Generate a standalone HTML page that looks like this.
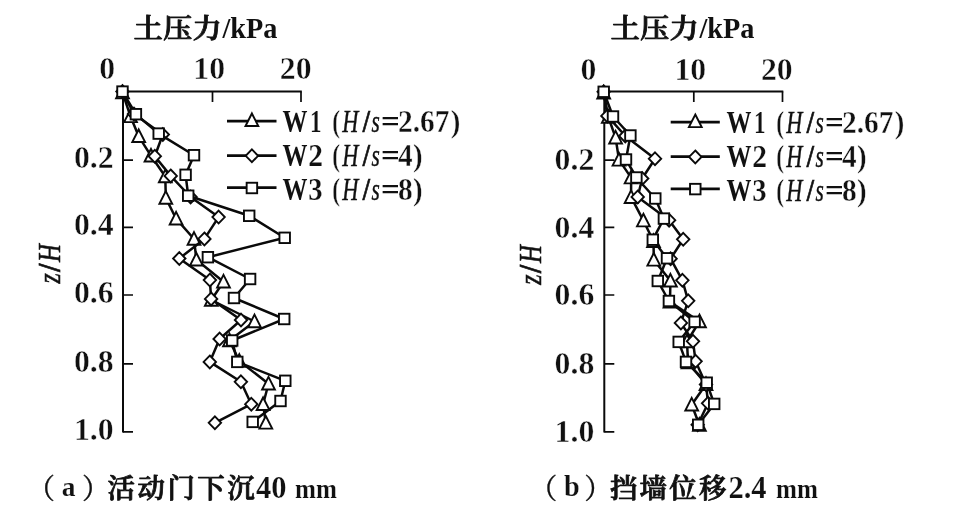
<!DOCTYPE html>
<html lang="zh-CN">
<head>
<meta charset="utf-8">
<title>土压力分布</title>
<style>
html,body{margin:0;padding:0;background:#fff;}
body{width:955px;height:515px;overflow:hidden;}
svg{display:block;}
text{fill:#111;font-family:"Liberation Serif","Noto Serif CJK SC",serif;}
.b{font-weight:bold;stroke:#fff;stroke-width:0.4px;}
.bw{font-weight:bold;stroke:#fff;stroke-width:0.2px;}
.n{font-weight:normal;}
.i{font-style:italic;font-weight:normal;stroke:none;}
.bi{font-style:italic;font-weight:bold;stroke:#fff;stroke-width:0.5px;}
.cj{font-weight:600;stroke:#111;stroke-width:0.8px;stroke-linejoin:round;}
.bb{font-weight:bold;stroke:none;}
.i2{font-style:italic;font-weight:normal;stroke:#111;stroke-width:0.55px;}
.bi2{font-style:italic;font-weight:bold;stroke:none;}
.i3{font-style:italic;font-weight:normal;stroke:#111;stroke-width:0.4px;}
.sl{font-weight:bold;stroke:#111;stroke-width:0.7px;}
.pn{font-weight:500;stroke:#111;stroke-width:0.3px;}
.ln{fill:none;stroke:#0a0a0a;stroke-width:2.5;stroke-linejoin:round;stroke-linecap:round;}
.lg{fill:none;stroke:#0a0a0a;stroke-width:2.8;}
.mk{fill:#fff;stroke:#0a0a0a;stroke-width:1.9;stroke-linejoin:miter;}
.ax{fill:none;stroke:#0a0a0a;stroke-width:2.0;stroke-linejoin:miter;}
.tk{fill:none;stroke:#0a0a0a;stroke-width:1.7;}
</style>
</head>
<body>
<svg width="955" height="515" viewBox="0 0 955 515">
<rect width="955" height="515" fill="#fff"/>
<text class="cj" transform="translate(133.4,37.6) scale(1.054,1)" font-size="27.8" letter-spacing="0.25">土压力</text>
<text class="bb" transform="translate(222.4,37.9) scale(0.975,1)" font-size="29">/kPa</text>
<text class="cj" transform="translate(610.4,37.6) scale(1.054,1)" font-size="27.8" letter-spacing="0.25">土压力</text>
<text class="bb" transform="translate(699.4,37.9) scale(0.975,1)" font-size="29">/kPa</text>
<path class="ax" d="M123,432.6V91.5H301.8"/>
<path class="tk" d="M212.5,91.5v10.5M301,91.5v10.5M123,160.2h10M123,227.4h10M123,295h10M123,363.8h10M123,431.8h10"/>
<text class="b" transform="translate(107.25,78.6) scale(1.032,1)" font-size="30.8" text-anchor="middle">0</text>
<text class="b" transform="translate(209.25,78.6) scale(1.032,1)" font-size="30.8" text-anchor="middle">10</text>
<text class="b" transform="translate(295.7,78.6) scale(1.032,1)" font-size="30.8" text-anchor="middle">20</text>
<text class="b" transform="translate(113.6,168.2) scale(1.032,1)" font-size="30.8" text-anchor="end">0.2</text>
<text class="b" transform="translate(113.6,235.4) scale(1.032,1)" font-size="30.8" text-anchor="end">0.4</text>
<text class="b" transform="translate(113.6,303) scale(1.032,1)" font-size="30.8" text-anchor="end">0.6</text>
<text class="b" transform="translate(113.6,371.8) scale(1.032,1)" font-size="30.8" text-anchor="end">0.8</text>
<text class="b" transform="translate(113.6,439.8) scale(1.032,1)" font-size="30.8" text-anchor="end">1.0</text>
<g transform="translate(60.2,284.3) rotate(-90)"><text class="i2" transform="translate(0.85,0) scale(0.854,1)" font-size="31">z</text><text class="sl" transform="translate(12.54,0) scale(0.940,1)" font-size="31">/</text><text class="i2" transform="translate(22.4,0) scale(0.800,1)" font-size="31">H</text></g>
<path class="ln" d="M122.5,92.6L130.5,116.4L138.7,136.3L151,155.8L165.3,176.5L165.8,198L176.1,218.7L194,239L196.4,259.8L223.5,281.7L211.3,300L254.5,321.5L229.5,340.5L239.3,361L268.5,383.7L263.1,404.3L265.8,422.9"/>
<g class="mk"><path d="M122.5,85.75L128.9,98.35L116.1,98.35Z"/><path d="M130.5,109.55L136.9,122.15L124.1,122.15Z"/><path d="M138.7,129.45L145.1,142.05L132.3,142.05Z"/><path d="M151,148.95L157.4,161.55L144.6,161.55Z"/><path d="M165.3,169.65L171.7,182.25L158.9,182.25Z"/><path d="M165.8,191.15L172.2,203.75L159.4,203.75Z"/><path d="M176.1,211.85L182.5,224.45L169.7,224.45Z"/><path d="M194,232.15L200.4,244.75L187.6,244.75Z"/><path d="M196.4,252.95L202.8,265.55L190,265.55Z"/><path d="M223.5,274.85L229.9,287.45L217.1,287.45Z"/><path d="M211.3,293.15L217.7,305.75L204.9,305.75Z"/><path d="M254.5,314.65L260.9,327.25L248.1,327.25Z"/><path d="M229.5,333.65L235.9,346.25L223.1,346.25Z"/><path d="M239.3,354.15L245.7,366.75L232.9,366.75Z"/><path d="M268.5,376.85L274.9,389.45L262.1,389.45Z"/><path d="M263.1,397.45L269.5,410.05L256.7,410.05Z"/><path d="M265.8,416.05L272.2,428.65L259.4,428.65Z"/></g>
<path class="ln" d="M122.5,91.6L134,114L162.8,134.5L154.8,156.2L170.7,175.9L190.6,197L218.6,217.1L204.4,238.9L179.3,258.5L209.9,280.1L211.1,298.9L241,320L219.6,339L209.8,361.9L240.9,381.8L251.3,404.2L214.9,422.8"/>
<g class="mk"><path d="M122.5,85.2L128.7,91.6L122.5,98L116.3,91.6Z"/><path d="M134,107.6L140.2,114L134,120.4L127.8,114Z"/><path d="M162.8,128.1L169,134.5L162.8,140.9L156.6,134.5Z"/><path d="M154.8,149.8L161,156.2L154.8,162.6L148.6,156.2Z"/><path d="M170.7,169.5L176.9,175.9L170.7,182.3L164.5,175.9Z"/><path d="M190.6,190.6L196.8,197L190.6,203.4L184.4,197Z"/><path d="M218.6,210.7L224.8,217.1L218.6,223.5L212.4,217.1Z"/><path d="M204.4,232.5L210.6,238.9L204.4,245.3L198.2,238.9Z"/><path d="M179.3,252.1L185.5,258.5L179.3,264.9L173.1,258.5Z"/><path d="M209.9,273.7L216.1,280.1L209.9,286.5L203.7,280.1Z"/><path d="M211.1,292.5L217.3,298.9L211.1,305.3L204.9,298.9Z"/><path d="M241,313.6L247.2,320L241,326.4L234.8,320Z"/><path d="M219.6,332.6L225.8,339L219.6,345.4L213.4,339Z"/><path d="M209.8,355.5L216,361.9L209.8,368.3L203.6,361.9Z"/><path d="M240.9,375.4L247.1,381.8L240.9,388.2L234.7,381.8Z"/><path d="M251.3,397.8L257.5,404.2L251.3,410.6L245.1,404.2Z"/><path d="M214.9,416.4L221.1,422.8L214.9,429.2L208.7,422.8Z"/></g>
<path class="ln" d="M122.5,91.6L135.9,114.2L158.7,133.6L194,155.2L185.6,174.8L188.2,195.7L249.2,215.8L284.7,237.8L207.9,257.2L250.1,279L234,298L284.2,319L232.2,340.5L237.3,361.9L285.3,380.8L280.5,401L252.7,421.9"/>
<g class="mk"><rect x="117.25" y="86.35" width="10.5" height="10.5"/><rect x="130.65" y="108.95" width="10.5" height="10.5"/><rect x="153.45" y="128.35" width="10.5" height="10.5"/><rect x="188.75" y="149.95" width="10.5" height="10.5"/><rect x="180.35" y="169.55" width="10.5" height="10.5"/><rect x="182.95" y="190.45" width="10.5" height="10.5"/><rect x="243.95" y="210.55" width="10.5" height="10.5"/><rect x="279.45" y="232.55" width="10.5" height="10.5"/><rect x="202.65" y="251.95" width="10.5" height="10.5"/><rect x="244.85" y="273.75" width="10.5" height="10.5"/><rect x="228.75" y="292.75" width="10.5" height="10.5"/><rect x="278.95" y="313.75" width="10.5" height="10.5"/><rect x="226.95" y="335.25" width="10.5" height="10.5"/><rect x="232.05" y="356.65" width="10.5" height="10.5"/><rect x="280.05" y="375.55" width="10.5" height="10.5"/><rect x="275.25" y="395.75" width="10.5" height="10.5"/><rect x="247.45" y="416.65" width="10.5" height="10.5"/></g>
<path class="lg" d="M227,121.1H276.5"/>
<path class="lg" d="M227,155.6H276.5"/>
<path class="lg" d="M227,187.7H276.5"/>
<g class="mk"><path d="M251.9,113.45L258.3,126.05L245.5,126.05Z"/><path d="M251.9,149.4L258.1,155.8L251.9,162.2L245.7,155.8Z"/><rect x="246.65" y="182.75" width="10.5" height="10.5"/></g>
<text class="bb" transform="translate(282.4,132) scale(0.810,1)" font-size="30.8">W</text>
<text class="bw" transform="translate(310.1,132) scale(0.750,1)" font-size="30.8">1</text>
<text class="b" transform="translate(332.24,132) scale(0.756,1)" font-size="30.8">(</text>
<text class="i3" transform="translate(342.13,132) scale(0.728,1)" font-size="30.8">H</text>
<text class="sl" transform="translate(362.64,132) scale(0.840,1)" font-size="30.8">/</text>
<text class="i3" transform="translate(371.6,132) scale(0.692,1)" font-size="30.8">s</text>
<text class="bb" transform="translate(381.03,132) scale(1.073,1)" font-size="30.8">=</text>
<text class="b" transform="translate(398.04,132) scale(0.956,1)" font-size="30.8">2.67</text>
<text class="b" transform="translate(450.86,132) scale(0.938,1)" font-size="30.8">)</text>
<text class="bb" transform="translate(282.4,166) scale(0.810,1)" font-size="30.8">W</text>
<text class="bw" transform="translate(308.34,166) scale(0.957,1)" font-size="30.8">2</text>
<text class="b" transform="translate(332.24,166) scale(0.756,1)" font-size="30.8">(</text>
<text class="i3" transform="translate(342.13,166) scale(0.728,1)" font-size="30.8">H</text>
<text class="sl" transform="translate(362.64,166) scale(0.840,1)" font-size="30.8">/</text>
<text class="i3" transform="translate(371.6,166) scale(0.692,1)" font-size="30.8">s</text>
<text class="bb" transform="translate(381.03,166) scale(1.073,1)" font-size="30.8">=</text>
<text class="b" transform="translate(398.1,166) scale(0.947,1)" font-size="30.8">4</text>
<text class="b" transform="translate(413.06,166) scale(0.938,1)" font-size="30.8">)</text>
<text class="bb" transform="translate(282.4,199.5) scale(0.810,1)" font-size="30.8">W</text>
<text class="bw" transform="translate(308.37,199.5) scale(0.929,1)" font-size="30.8">3</text>
<text class="b" transform="translate(332.24,199.5) scale(0.756,1)" font-size="30.8">(</text>
<text class="i3" transform="translate(342.13,199.5) scale(0.728,1)" font-size="30.8">H</text>
<text class="sl" transform="translate(362.64,199.5) scale(0.840,1)" font-size="30.8">/</text>
<text class="i3" transform="translate(371.6,199.5) scale(0.692,1)" font-size="30.8">s</text>
<text class="bb" transform="translate(381.03,199.5) scale(1.073,1)" font-size="30.8">=</text>
<text class="b" transform="translate(397.94,199.5) scale(0.957,1)" font-size="30.8">8</text>
<text class="b" transform="translate(413.06,199.5) scale(0.938,1)" font-size="30.8">)</text>
<path class="ax" d="M604.3,432.6V91.5H783.3"/>
<path class="tk" d="M693.8,91.5v10.5M782.5,91.5v10.5M604.3,160.2h10M604.3,227.4h10M604.3,295h10M604.3,363.8h10M604.3,431.8h10"/>
<text class="b" transform="translate(588.35,79.7) scale(1.032,1)" font-size="30.8" text-anchor="middle">0</text>
<text class="b" transform="translate(690.35,79.7) scale(1.032,1)" font-size="30.8" text-anchor="middle">10</text>
<text class="b" transform="translate(776.8,79.7) scale(1.032,1)" font-size="30.8" text-anchor="middle">20</text>
<text class="b" transform="translate(594.3,170.4) scale(1.032,1)" font-size="30.8" text-anchor="end">0.2</text>
<text class="b" transform="translate(594.3,237.6) scale(1.032,1)" font-size="30.8" text-anchor="end">0.4</text>
<text class="b" transform="translate(594.3,305.2) scale(1.032,1)" font-size="30.8" text-anchor="end">0.6</text>
<text class="b" transform="translate(594.3,374) scale(1.032,1)" font-size="30.8" text-anchor="end">0.8</text>
<text class="b" transform="translate(594.3,442) scale(1.032,1)" font-size="30.8" text-anchor="end">1.0</text>
<g transform="translate(541.2,285.5) rotate(-90)"><text class="i2" transform="translate(0.85,0) scale(0.854,1)" font-size="31">z</text><text class="sl" transform="translate(12.54,0) scale(0.940,1)" font-size="31">/</text><text class="i2" transform="translate(22.4,0) scale(0.800,1)" font-size="31">H</text></g>
<path class="ln" d="M603.7,92.8L608.3,117L615.6,137.7L619,159.9L631.1,177.6L631.1,197.2L643.4,220.6L653.5,241.2L653.8,259.9L670.4,280.8L670,301.8L699.5,321.5L687,341.5L688,362.5L706,384.3L691.7,404.7L699.4,425"/>
<g class="mk"><path d="M603.7,85.95L610.1,98.55L597.3,98.55Z"/><path d="M608.3,110.15L614.7,122.75L601.9,122.75Z"/><path d="M615.6,130.85L622,143.45L609.2,143.45Z"/><path d="M619,153.05L625.4,165.65L612.6,165.65Z"/><path d="M631.1,170.75L637.5,183.35L624.7,183.35Z"/><path d="M631.1,190.35L637.5,202.95L624.7,202.95Z"/><path d="M643.4,213.75L649.8,226.35L637,226.35Z"/><path d="M653.5,234.35L659.9,246.95L647.1,246.95Z"/><path d="M653.8,253.05L660.2,265.65L647.4,265.65Z"/><path d="M670.4,273.95L676.8,286.55L664,286.55Z"/><path d="M670,294.95L676.4,307.55L663.6,307.55Z"/><path d="M699.5,314.65L705.9,327.25L693.1,327.25Z"/><path d="M687,334.65L693.4,347.25L680.6,347.25Z"/><path d="M688,355.65L694.4,368.25L681.6,368.25Z"/><path d="M706,377.45L712.4,390.05L699.6,390.05Z"/><path d="M691.7,397.85L698.1,410.45L685.3,410.45Z"/><path d="M699.4,418.15L705.8,430.75L693,430.75Z"/></g>
<path class="ln" d="M603.7,91.8L607.4,115.9L625.3,136L655,158.7L642.2,178.5L637.7,196.9L669.1,220.2L683.2,239.3L670.6,258.7L682.4,280.3L688.2,300.8L680.9,322.9L693,341.3L695.6,361.3L706,384.6L708.1,403.3L697.7,424.8"/>
<g class="mk"><path d="M603.7,85.4L609.9,91.8L603.7,98.2L597.5,91.8Z"/><path d="M607.4,109.5L613.6,115.9L607.4,122.3L601.2,115.9Z"/><path d="M625.3,129.6L631.5,136L625.3,142.4L619.1,136Z"/><path d="M655,152.3L661.2,158.7L655,165.1L648.8,158.7Z"/><path d="M642.2,172.1L648.4,178.5L642.2,184.9L636,178.5Z"/><path d="M637.7,190.5L643.9,196.9L637.7,203.3L631.5,196.9Z"/><path d="M669.1,213.8L675.3,220.2L669.1,226.6L662.9,220.2Z"/><path d="M683.2,232.9L689.4,239.3L683.2,245.7L677,239.3Z"/><path d="M670.6,252.3L676.8,258.7L670.6,265.1L664.4,258.7Z"/><path d="M682.4,273.9L688.6,280.3L682.4,286.7L676.2,280.3Z"/><path d="M688.2,294.4L694.4,300.8L688.2,307.2L682,300.8Z"/><path d="M680.9,316.5L687.1,322.9L680.9,329.3L674.7,322.9Z"/><path d="M693,334.9L699.2,341.3L693,347.7L686.8,341.3Z"/><path d="M695.6,354.9L701.8,361.3L695.6,367.7L689.4,361.3Z"/><path d="M706,378.2L712.2,384.6L706,391L699.8,384.6Z"/><path d="M708.1,396.9L714.3,403.3L708.1,409.7L701.9,403.3Z"/><path d="M697.7,418.4L703.9,424.8L697.7,431.2L691.5,424.8Z"/></g>
<path class="ln" d="M603.7,91.8L613,116.5L630.4,135.5L626,159.5L636.4,177.5L655.3,198.5L663.9,218.6L652.8,239.7L667,258.3L657.8,281L668.9,301L694.6,321.8L678.7,341.9L686,361.9L706.7,382.7L714.2,403.9L698.2,424.8"/>
<g class="mk"><rect x="598.45" y="86.55" width="10.5" height="10.5"/><rect x="607.75" y="111.25" width="10.5" height="10.5"/><rect x="625.15" y="130.25" width="10.5" height="10.5"/><rect x="620.75" y="154.25" width="10.5" height="10.5"/><rect x="631.15" y="172.25" width="10.5" height="10.5"/><rect x="650.05" y="193.25" width="10.5" height="10.5"/><rect x="658.65" y="213.35" width="10.5" height="10.5"/><rect x="647.55" y="234.45" width="10.5" height="10.5"/><rect x="661.75" y="253.05" width="10.5" height="10.5"/><rect x="652.55" y="275.75" width="10.5" height="10.5"/><rect x="663.65" y="295.75" width="10.5" height="10.5"/><rect x="689.35" y="316.55" width="10.5" height="10.5"/><rect x="673.45" y="336.65" width="10.5" height="10.5"/><rect x="680.75" y="356.65" width="10.5" height="10.5"/><rect x="701.45" y="377.45" width="10.5" height="10.5"/><rect x="708.95" y="398.65" width="10.5" height="10.5"/><rect x="692.95" y="419.55" width="10.5" height="10.5"/></g>
<path class="lg" d="M670.7,122.2H719.8"/>
<path class="lg" d="M670.7,156.7H719.8"/>
<path class="lg" d="M670.7,188.8H719.8"/>
<g class="mk"><path d="M695.3,114.55L701.7,127.15L688.9,127.15Z"/><path d="M695.3,150.5L701.5,156.9L695.3,163.3L689.1,156.9Z"/><rect x="690.05" y="183.85" width="10.5" height="10.5"/></g>
<text class="bb" transform="translate(726.4,133) scale(0.810,1)" font-size="30.8">W</text>
<text class="bw" transform="translate(754.1,133) scale(0.750,1)" font-size="30.8">1</text>
<text class="b" transform="translate(776.24,133) scale(0.756,1)" font-size="30.8">(</text>
<text class="i3" transform="translate(786.13,133) scale(0.728,1)" font-size="30.8">H</text>
<text class="sl" transform="translate(806.64,133) scale(0.840,1)" font-size="30.8">/</text>
<text class="i3" transform="translate(815.6,133) scale(0.692,1)" font-size="30.8">s</text>
<text class="bb" transform="translate(825.03,133) scale(1.073,1)" font-size="30.8">=</text>
<text class="b" transform="translate(842.04,133) scale(0.956,1)" font-size="30.8">2.67</text>
<text class="b" transform="translate(894.86,133) scale(0.938,1)" font-size="30.8">)</text>
<text class="bb" transform="translate(726.4,167) scale(0.810,1)" font-size="30.8">W</text>
<text class="bw" transform="translate(752.34,167) scale(0.957,1)" font-size="30.8">2</text>
<text class="b" transform="translate(776.24,167) scale(0.756,1)" font-size="30.8">(</text>
<text class="i3" transform="translate(786.13,167) scale(0.728,1)" font-size="30.8">H</text>
<text class="sl" transform="translate(806.64,167) scale(0.840,1)" font-size="30.8">/</text>
<text class="i3" transform="translate(815.6,167) scale(0.692,1)" font-size="30.8">s</text>
<text class="bb" transform="translate(825.03,167) scale(1.073,1)" font-size="30.8">=</text>
<text class="b" transform="translate(842.1,167) scale(0.947,1)" font-size="30.8">4</text>
<text class="b" transform="translate(857.06,167) scale(0.938,1)" font-size="30.8">)</text>
<text class="bb" transform="translate(726.4,200.5) scale(0.810,1)" font-size="30.8">W</text>
<text class="bw" transform="translate(752.37,200.5) scale(0.929,1)" font-size="30.8">3</text>
<text class="b" transform="translate(776.24,200.5) scale(0.756,1)" font-size="30.8">(</text>
<text class="i3" transform="translate(786.13,200.5) scale(0.728,1)" font-size="30.8">H</text>
<text class="sl" transform="translate(806.64,200.5) scale(0.840,1)" font-size="30.8">/</text>
<text class="i3" transform="translate(815.6,200.5) scale(0.692,1)" font-size="30.8">s</text>
<text class="bb" transform="translate(825.03,200.5) scale(1.073,1)" font-size="30.8">=</text>
<text class="b" transform="translate(841.94,200.5) scale(0.957,1)" font-size="30.8">8</text>
<text class="b" transform="translate(857.06,200.5) scale(0.938,1)" font-size="30.8">)</text>
<text class="pn" transform="translate(26.9,498.5)" font-size="28">（</text>
<text class="bw" transform="translate(61.8,495.8)" font-size="27.5">a</text>
<text class="pn" transform="translate(82,498.5)" font-size="28">）</text>
<text class="cj" transform="translate(107.4,498.2)" font-size="27.4" letter-spacing="2.6">活动门下沉</text>
<text class="bw" transform="translate(255.9,497.8) scale(0.995,1)" font-size="30.7">40</text>
<text class="bw" transform="translate(295,497.8) scale(0.932,1)" font-size="27">mm</text>
<text class="pn" transform="translate(529.2,498.5)" font-size="28">（</text>
<text class="bw" transform="translate(564.1,495.8) scale(0.974,1)" font-size="29">b</text>
<text class="pn" transform="translate(584.3,498.5)" font-size="28">）</text>
<text class="cj" transform="translate(609.9,498.2)" font-size="27.4" letter-spacing="2.27">挡墙位移</text>
<text class="bw" transform="translate(728.4,497.8) scale(0.995,1)" font-size="30.7">2.4</text>
<text class="bw" transform="translate(776,497.8) scale(0.932,1)" font-size="27">mm</text>
</svg>
</body>
</html>
